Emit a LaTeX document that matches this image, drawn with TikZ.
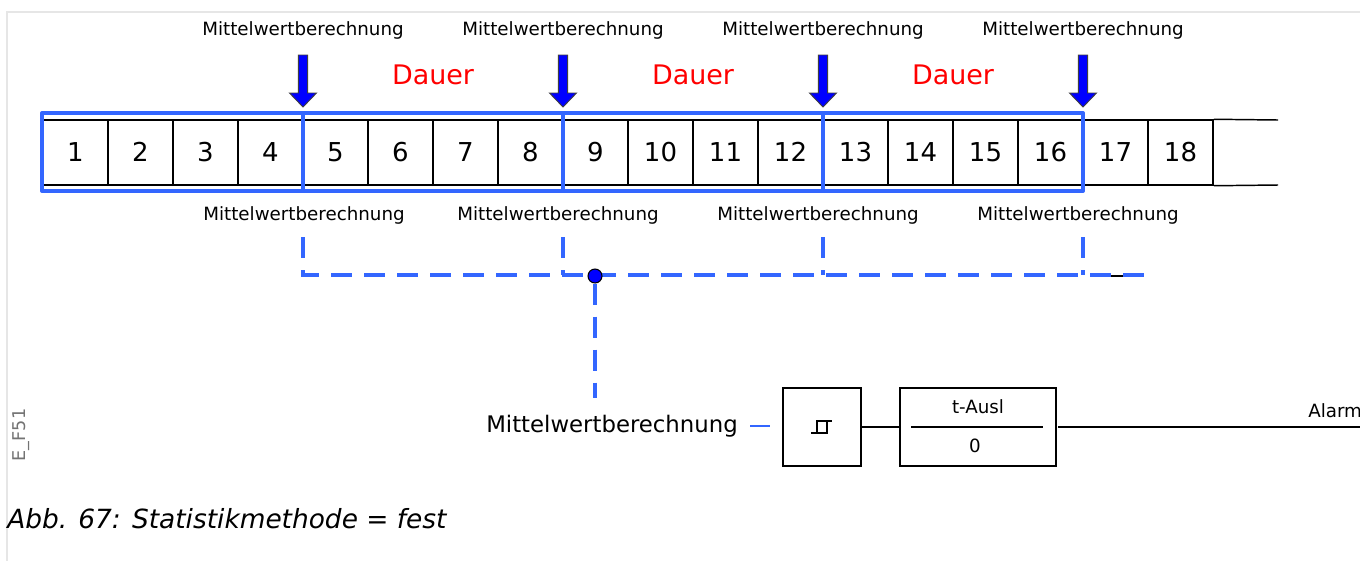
\documentclass[tikz,border=0pt]{standalone}
\usepackage{fontspec}
\setmainfont{DejaVu Sans}
\definecolor{frameblue}{RGB}{51,102,255}
\definecolor{arrowblue}{RGB}{0,0,255}
\definecolor{framegray}{RGB}{230,230,230}
\begin{document}
\begin{tikzpicture}[x=0.75pt,y=-0.75pt,
  cell/.style={draw=black,line width=1.1pt,minimum width=48.75pt,minimum height=48.75pt,inner sep=0pt,text height=14pt,text depth=0pt,font=\fontsize{19.5}{22}\selectfont},
  smalllbl/.style={font=\fontsize{13.7}{16}\selectfont,inner sep=0pt},
  dauer/.style={font=\fontsize{20.2}{24}\selectfont,text=red,inner sep=0pt},
  bframe/.style={draw=frameblue,line width=3pt,line join=round},
  bdash/.style={draw=frameblue,line width=2.5pt,dash pattern=on 15.75pt off 9pt},
  bigarrow/.style={fill=arrowblue,draw=black!75,line width=0.7pt},
  logicbox/.style={draw=black,line width=1.1pt,inner sep=0pt},
  wire/.style={draw=black,line width=1.1pt}]
\useasboundingbox (0,0) rectangle (1360,561);
% page frame
\draw[framegray,line width=1.5pt] (7,561) -- (7,12) -- (1360,12);
% cells
\foreach \i in {1,...,18} {
  \node[cell] (c\i) at ({75.5+65*(\i-1)},152.5) {\i};
}
\draw[wire] (c18.north east) -- (1278,120);
\draw[wire] (c18.south east) -- (1278,185);
% blue frames
\draw[bframe] (42,113) rectangle (1083,191);
\foreach \x in {303,563,823} \draw[bframe] (\x,113) -- (\x,191);
% arrows and top labels
\foreach \x/\n in {303/1,563/2,823/3,1083/4} {
  \draw[bigarrow] (\x-4.7,55) -- (\x+4.7,55) -- (\x+4.7,93) -- (\x+13.5,93) -- (\x,107) -- (\x-13.5,93) -- (\x-4.7,93) -- cycle;
  \node[smalllbl] (top\n) at (\x,30) {Mittelwertberechnung};
}
\node[dauer] (d1) at (433,75) {Dauer};
\node[dauer] (d2) at (693,75) {Dauer};
\node[dauer] (d3) at (953,75) {Dauer};
% bottom labels
\node[smalllbl] (bot1) at (304,215) {Mittelwertberechnung};
\node[smalllbl] (bot2) at (558,215) {Mittelwertberechnung};
\node[smalllbl] (bot3) at (818,215) {Mittelwertberechnung};
\node[smalllbl] (bot4) at (1078,215) {Mittelwertberechnung};
% dashed collection lines
\coordinate (v1) at (303,237);
\coordinate (v2) at (563,237);
\coordinate (v3) at (823,237);
\coordinate (v4) at (1083,237);
\coordinate (hend) at (1145,275);
\draw[wire,line width=1pt] (1110,276) -- (1123,276);
\draw[bdash] (v1) -- (303,275) -- (hend);
\draw[bdash] (v2) -- (563,275);
\draw[bdash] (v3) -- (823,275);
\draw[bdash] (v4) -- (1083,275);
\node[circle,fill=arrowblue,draw=black,line width=0.8pt,minimum size=10.5pt,inner sep=0pt] (dot) at (595,276) {};
\coordinate (vdown) at (595,398);
\draw[bdash] (dot) -- (vdown);
% logic chain
\node[font=\fontsize{17.1}{20}\selectfont,inner sep=0pt,anchor=east] (mwb) at (738,426) {Mittelwertberechnung};
\node[logicbox,minimum width=58.5pt,minimum height=58.5pt] (hyst) at (822,427) {};
\draw[line width=0.9pt] (811,433) -- (827,433) -- (827,421);
\draw[line width=0.9pt] (817,433) -- (817,421) -- (832,421);
\node[logicbox,minimum width=117pt,minimum height=58.5pt] (timer) at (978,427) {};
\node[smalllbl] (tausl) at (978,407) {t-Ausl};
\node[smalllbl] (tzero) at (975,446) {0};
\draw[line width=1.1pt] (911,427) -- (1043,427);
\coordinate (bl1) at (750,426);
\coordinate (bl2) at (770,426);
\draw[frameblue,line width=2.2pt] (bl1) -- (bl2);
\draw[wire] (hyst.east) -- (timer.west);
\coordinate (aend) at (1360,427);
\draw[wire] (1058,427) -- (aend);
\node[smalllbl,anchor=west] (alarm) at (1308,411) {Alarm};
% side label and caption
\node[font=\fontsize{13.2}{15}\selectfont,text=black!55,rotate=90,inner sep=0pt] (ef) at (21,435) {E\_F51};
\node[font=\fontsize{19.8}{24}\selectfont\itshape,anchor=west,inner sep=0pt] (cap) at (7,519) {Abb. 67: Statistikmethode = fest};
\end{tikzpicture}
\end{document}
